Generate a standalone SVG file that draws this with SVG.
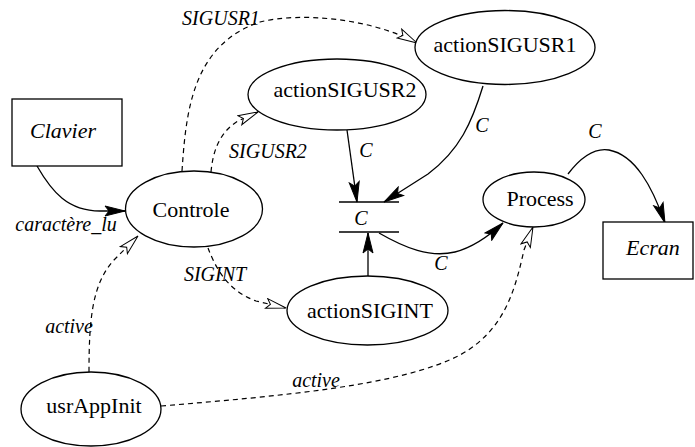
<svg xmlns="http://www.w3.org/2000/svg" width="695" height="447" viewBox="0 0 695 447">
  <style>
    .box { fill: #ffffff; stroke: #000000; stroke-width: 1.3; }
    .ntxt { font-family: 'Liberation Serif', serif; font-size: 22px; text-anchor: middle; }
    .itxt { font-family: 'Liberation Serif', serif; font-size: 22px; font-style: italic; text-anchor: middle; }
    .etxt { font-family: 'Liberation Serif', serif; font-size: 20px; font-style: italic; text-anchor: middle; }
    .flow { fill: none; stroke: #000000; stroke-width: 1.3; }
    .ctrl { fill: none; stroke: #000000; stroke-width: 1.2; stroke-dasharray: 5 4; }
    .bar { stroke: #000000; stroke-width: 1.3; }
  </style>
  <defs>
    <marker id="solidHead" markerUnits="userSpaceOnUse" viewBox="0 0 22 12" markerWidth="22" markerHeight="12" refX="21" refY="6" orient="auto">
      <path d="M1,1 L21,6 L1,11 L5,6 Z" fill="#000000" stroke="#000000" stroke-width="1"/>
    </marker>
    <marker id="openHead" markerUnits="userSpaceOnUse" viewBox="0 0 22 12" markerWidth="22" markerHeight="12" refX="21" refY="6" orient="auto">
      <path d="M1,1 L21,6 L1,11 L5,6 Z" fill="#ffffff" stroke="#000000" stroke-width="1"/>
    </marker>
  </defs>

  <!-- connectors -->
  <g id="connectors">
    <!-- data flows -->
    <path class="flow" d="M37,166 C52,192 68,211 100,211 L125,211" marker-end="url(#solidHead)"/>
    <path class="flow" d="M347,130 L357,202" marker-end="url(#solidHead)"/>
    <path class="flow" d="M483,86 C472,122 460,150 428,174 L384,202" marker-end="url(#solidHead)"/>
    <path class="flow" d="M368,277 L368,233" marker-end="url(#solidHead)"/>
    <path class="flow" d="M379,233 C405,248 430,258 455,252 C474,247 489,236 503,223" marker-end="url(#solidHead)"/>
    <path class="flow" d="M568,174 C584,153 597,148 609,150 C635,155 652,186 665,223" marker-end="url(#solidHead)"/>
    <!-- control flows -->
    <path class="ctrl" d="M182,171 C186,112 192,45 260,22 C300,12 370,18 417,43" marker-end="url(#openHead)"/>
    <path class="ctrl" d="M211,172 C213,150 220,132 238,121 L258,112" marker-end="url(#openHead)"/>
    <path class="ctrl" d="M208,248 C215,266 226,290 256,301 L286,308" marker-end="url(#openHead)"/>
    <path class="ctrl" d="M89,372 C89,320 92,285 113,261 L138,236" marker-end="url(#openHead)"/>
    <path class="ctrl" d="M161,406 C280,396 400,386 460,355 C505,330 515,290 524,250 L533,227" marker-end="url(#openHead)"/>

    <!-- flow labels -->
    <text class="etxt" font-family="Liberation Serif" x="66" y="231">caract&#232;re_lu</text>
    <text class="etxt" font-family="Liberation Serif" x="221" y="25">SIGUSR1</text>
    <text class="etxt" font-family="Liberation Serif" x="268" y="158">SIGUSR2</text>
    <text class="etxt" font-family="Liberation Serif" x="215" y="281">SIGINT</text>
    <text class="etxt" font-family="Liberation Serif" x="69" y="333">active</text>
    <text class="etxt" font-family="Liberation Serif" x="316" y="387">active</text>
    <text class="etxt" font-family="Liberation Serif" x="366" y="157">C</text>
    <text class="etxt" font-family="Liberation Serif" x="482" y="132">C</text>
    <text class="etxt" font-family="Liberation Serif" x="441" y="270">C</text>
    <text class="etxt" font-family="Liberation Serif" x="595" y="138">C</text>
  </g>

  <!-- terminators -->
  <g id="Clavier">
    <rect class="box" x="12" y="99" width="110" height="67"/>
    <text class="itxt" font-family="Liberation Serif" x="63" y="138">Clavier</text>
  </g>
  <g id="Ecran">
    <rect class="box" x="603" y="222" width="90" height="57"/>
    <text class="itxt" font-family="Liberation Serif" x="653" y="255">Ecran</text>
  </g>

  <!-- processes -->
  <g id="Controle">
    <ellipse class="box" cx="194" cy="209" rx="68.5" ry="38"/>
    <text class="ntxt" font-family="Liberation Serif" x="191" y="217">Controle</text>
  </g>
  <g id="actionSIGUSR2">
    <ellipse class="box" cx="337" cy="94.5" rx="89" ry="35.5"/>
    <text class="ntxt" font-family="Liberation Serif" x="345" y="97">actionSIGUSR2</text>
  </g>
  <g id="actionSIGUSR1">
    <ellipse class="box" cx="505" cy="47.5" rx="90" ry="37"/>
    <text class="ntxt" font-family="Liberation Serif" x="505" y="52">actionSIGUSR1</text>
  </g>
  <g id="actionSIGINT">
    <ellipse class="box" cx="367.5" cy="310.5" rx="80.5" ry="34.5"/>
    <text class="ntxt" font-family="Liberation Serif" x="370" y="318">actionSIGINT</text>
  </g>
  <g id="Process">
    <ellipse class="box" cx="534" cy="199.5" rx="51" ry="27.5"/>
    <text class="ntxt" font-family="Liberation Serif" x="540" y="206">Process</text>
  </g>
  <g id="usrAppInit">
    <ellipse class="box" cx="91" cy="409" rx="70" ry="37"/>
    <text class="ntxt" font-family="Liberation Serif" x="94" y="413">usrAppInit</text>
  </g>

  <!-- data store C -->
  <g id="store-C">
    <line class="bar" x1="339" y1="202" x2="399" y2="202"/>
    <line class="bar" x1="339" y1="232" x2="399" y2="232"/>
    <text class="etxt" font-family="Liberation Serif" x="361" y="225">C</text>
  </g>
</svg>
